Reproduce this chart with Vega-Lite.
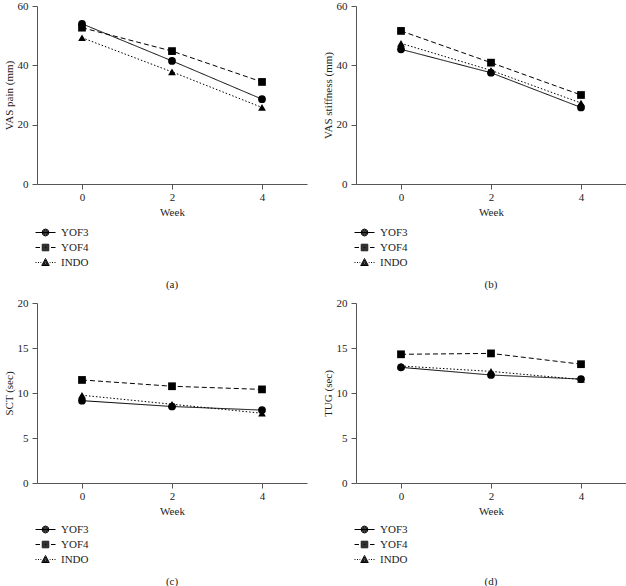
{
  "$schema": "https://vega.github.io/schema/vega-lite/v6.json",
  "padding": {"top": 0, "left": 3, "right": 0, "bottom": 0},
  "background": "white",
  "data": {"values": [
    {"panel": "a", "group": "YOF3", "week": 0, "value": 54.0},
    {"panel": "a", "group": "YOF3", "week": 2, "value": 41.5},
    {"panel": "a", "group": "YOF3", "week": 4, "value": 28.6},
    {"panel": "a", "group": "YOF4", "week": 0, "value": 52.7},
    {"panel": "a", "group": "YOF4", "week": 2, "value": 44.8},
    {"panel": "a", "group": "YOF4", "week": 4, "value": 34.4},
    {"panel": "a", "group": "INDO", "week": 0, "value": 49.3},
    {"panel": "a", "group": "INDO", "week": 2, "value": 37.8},
    {"panel": "a", "group": "INDO", "week": 4, "value": 25.8},
    {"panel": "b", "group": "YOF3", "week": 0, "value": 45.4},
    {"panel": "b", "group": "YOF3", "week": 2, "value": 37.5},
    {"panel": "b", "group": "YOF3", "week": 4, "value": 25.8},
    {"panel": "b", "group": "YOF4", "week": 0, "value": 51.6},
    {"panel": "b", "group": "YOF4", "week": 2, "value": 40.9},
    {"panel": "b", "group": "YOF4", "week": 4, "value": 30.0},
    {"panel": "b", "group": "INDO", "week": 0, "value": 47.4},
    {"panel": "b", "group": "INDO", "week": 2, "value": 38.3},
    {"panel": "b", "group": "INDO", "week": 4, "value": 27.3},
    {"panel": "c", "group": "YOF3", "week": 0, "value": 9.15},
    {"panel": "c", "group": "YOF3", "week": 2, "value": 8.5},
    {"panel": "c", "group": "YOF3", "week": 4, "value": 8.1},
    {"panel": "c", "group": "YOF4", "week": 0, "value": 11.45},
    {"panel": "c", "group": "YOF4", "week": 2, "value": 10.75},
    {"panel": "c", "group": "YOF4", "week": 4, "value": 10.4},
    {"panel": "c", "group": "INDO", "week": 0, "value": 9.75},
    {"panel": "c", "group": "INDO", "week": 2, "value": 8.75},
    {"panel": "c", "group": "INDO", "week": 4, "value": 7.75},
    {"panel": "d", "group": "YOF3", "week": 0, "value": 12.85},
    {"panel": "d", "group": "YOF3", "week": 2, "value": 12.0},
    {"panel": "d", "group": "YOF3", "week": 4, "value": 11.55},
    {"panel": "d", "group": "YOF4", "week": 0, "value": 14.3},
    {"panel": "d", "group": "YOF4", "week": 2, "value": 14.4},
    {"panel": "d", "group": "YOF4", "week": 4, "value": 13.2},
    {"panel": "d", "group": "INDO", "week": 0, "value": 13.0},
    {"panel": "d", "group": "INDO", "week": 2, "value": 12.4},
    {"panel": "d", "group": "INDO", "week": 4, "value": 11.5}
  ]},
  "columns": 2,
  "spacing": {"column": 15, "row": 7},
  "resolve": {"scale": {"y": "independent", "x": "independent", "strokeDash": "independent", "shape": "independent"}, "legend": {"shape": "independent"}, "axis": {"x": "independent", "y": "independent"}},
  "concat": [
    {
      "width": 270, "height": 178,
      "title": {"text": "(a)", "orient": "bottom", "offset": 11},
      "transform": [{"filter": "datum.panel === 'a'"}],
      "encoding": {
        "x": {"field": "week", "type": "quantitative", "scale": {"domain": [-1, 5], "nice": false}, "axis": {"values": [0, 2, 4], "title": "Week"}},
        "y": {"field": "value", "type": "quantitative", "scale": {"domain": [0, 60], "nice": false}, "axis": {"values": [0, 20, 40, 60], "title": "VAS pain (mm)"}}
      },
      "resolve": {"scale": {"shape": "independent"}},
      "layer": [
        {"mark": {"type": "line", "color": "black", "strokeWidth": 1},
         "encoding": {"strokeDash": {"field": "group", "type": "nominal", "scale": {"domain": ["YOF3", "YOF4", "INDO"], "range": [[1, 0], [5, 3], [1.5, 2]]}, "legend": null}}},
        {"mark": {"type": "point", "filled": true, "color": "black", "size": 60, "opacity": 1},
         "encoding": {"shape": {"field": "group", "type": "nominal", "scale": {"domain": ["INDO", "YOF3", "YOF4"], "range": ["triangle-up", "circle", "square"]}, "legend": null}}},
        {"mark": {"type": "point", "filled": false, "color": "black", "opacity": 0, "strokeWidth": 1},
         "encoding": {"shape": {"field": "group", "type": "nominal", "scale": {"domain": ["YOF3", "YOF4", "INDO"], "range": [
           "M-2,0H2M0.7,0L0.495,0.495L0,0.7L-0.495,0.495L-0.7,0L-0.495,-0.495L0,-0.7L0.495,-0.495ZM0.52,0L0.368,0.368L0,0.52L-0.368,0.368L-0.52,0L-0.368,-0.368L0,-0.52L0.368,-0.368ZM0.34,0L0.24,0.24L0,0.34L-0.24,0.24L-0.34,0L-0.24,-0.24L0,-0.34L0.24,-0.24ZM0.16,0L0.113,0.113L0,0.16L-0.113,0.113L-0.16,0L-0.113,-0.113L0,-0.16L0.113,-0.113Z",
           "M-2,0H-1.1M1.1,0H2M-0.65,-0.65H0.65V0.65H-0.65ZM-0.45,-0.45H0.45V0.45H-0.45ZM-0.25,-0.25H0.25V0.25H-0.25ZM-0.08,-0.08H0.08V0.08H-0.08Z",
           "M-2,0H-1.8M-1.5,0H-1.3M-1.0,0H-0.85M0.85,0H1.0M1.3,0H1.5M1.8,0H2M0,-0.8L0.75,0.6L-0.75,0.6ZM0,-0.483L0.495,0.441L-0.495,0.441ZM0,-0.175L0.2475,0.287L-0.2475,0.287Z"]},
           "legend": {"orient": "none", "legendX": 3, "legendY": 221, "title": null, "padding": 0, "symbolSize": 100, "labelOffset": 10, "rowPadding": 3, "labelFontSize": 11, "symbolOpacity": 1, "symbolStrokeWidth": 1, "symbolStrokeColor": "black"}}}}
      ]
    },
    {
      "width": 270, "height": 178,
      "title": {"text": "(b)", "orient": "bottom", "offset": 11},
      "transform": [{"filter": "datum.panel === 'b'"}],
      "encoding": {
        "x": {"field": "week", "type": "quantitative", "scale": {"domain": [-1, 5], "nice": false}, "axis": {"values": [0, 2, 4], "title": "Week"}},
        "y": {"field": "value", "type": "quantitative", "scale": {"domain": [0, 60], "nice": false}, "axis": {"values": [0, 20, 40, 60], "title": "VAS stiffness (mm)"}}
      },
      "resolve": {"scale": {"shape": "independent"}},
      "layer": [
        {"mark": {"type": "line", "color": "black", "strokeWidth": 1},
         "encoding": {"strokeDash": {"field": "group", "type": "nominal", "scale": {"domain": ["YOF3", "YOF4", "INDO"], "range": [[1, 0], [5, 3], [1.5, 2]]}, "legend": null}}},
        {"mark": {"type": "point", "filled": true, "color": "black", "size": 60, "opacity": 1},
         "encoding": {"shape": {"field": "group", "type": "nominal", "scale": {"domain": ["INDO", "YOF3", "YOF4"], "range": ["triangle-up", "circle", "square"]}, "legend": null}}},
        {"mark": {"type": "point", "filled": false, "color": "black", "opacity": 0, "strokeWidth": 1},
         "encoding": {"shape": {"field": "group", "type": "nominal", "scale": {"domain": ["YOF3", "YOF4", "INDO"], "range": [
           "M-2,0H2M0.7,0L0.495,0.495L0,0.7L-0.495,0.495L-0.7,0L-0.495,-0.495L0,-0.7L0.495,-0.495ZM0.52,0L0.368,0.368L0,0.52L-0.368,0.368L-0.52,0L-0.368,-0.368L0,-0.52L0.368,-0.368ZM0.34,0L0.24,0.24L0,0.34L-0.24,0.24L-0.34,0L-0.24,-0.24L0,-0.34L0.24,-0.24ZM0.16,0L0.113,0.113L0,0.16L-0.113,0.113L-0.16,0L-0.113,-0.113L0,-0.16L0.113,-0.113Z",
           "M-2,0H-1.1M1.1,0H2M-0.65,-0.65H0.65V0.65H-0.65ZM-0.45,-0.45H0.45V0.45H-0.45ZM-0.25,-0.25H0.25V0.25H-0.25ZM-0.08,-0.08H0.08V0.08H-0.08Z",
           "M-2,0H-1.8M-1.5,0H-1.3M-1.0,0H-0.85M0.85,0H1.0M1.3,0H1.5M1.8,0H2M0,-0.8L0.75,0.6L-0.75,0.6ZM0,-0.483L0.495,0.441L-0.495,0.441ZM0,-0.175L0.2475,0.287L-0.2475,0.287Z"]},
           "legend": {"orient": "none", "legendX": 3, "legendY": 221, "title": null, "padding": 0, "symbolSize": 100, "labelOffset": 10, "rowPadding": 3, "labelFontSize": 11, "symbolOpacity": 1, "symbolStrokeWidth": 1, "symbolStrokeColor": "black"}}}}
      ]
    },
    {
      "width": 270, "height": 180,
      "title": {"text": "(c)", "orient": "bottom", "offset": 11},
      "transform": [{"filter": "datum.panel === 'c'"}],
      "encoding": {
        "x": {"field": "week", "type": "quantitative", "scale": {"domain": [-1, 5], "nice": false}, "axis": {"values": [0, 2, 4], "title": "Week"}},
        "y": {"field": "value", "type": "quantitative", "scale": {"domain": [0, 20], "nice": false}, "axis": {"values": [0, 5, 10, 15, 20], "title": "SCT (sec)"}}
      },
      "resolve": {"scale": {"shape": "independent"}},
      "layer": [
        {"mark": {"type": "line", "color": "black", "strokeWidth": 1},
         "encoding": {"strokeDash": {"field": "group", "type": "nominal", "scale": {"domain": ["YOF3", "YOF4", "INDO"], "range": [[1, 0], [5, 3], [1.5, 2]]}, "legend": null}}},
        {"mark": {"type": "point", "filled": true, "color": "black", "size": 60, "opacity": 1},
         "encoding": {"shape": {"field": "group", "type": "nominal", "scale": {"domain": ["INDO", "YOF3", "YOF4"], "range": ["triangle-up", "circle", "square"]}, "legend": null}}},
        {"mark": {"type": "point", "filled": false, "color": "black", "opacity": 0, "strokeWidth": 1},
         "encoding": {"shape": {"field": "group", "type": "nominal", "scale": {"domain": ["YOF3", "YOF4", "INDO"], "range": [
           "M-2,0H2M0.7,0L0.495,0.495L0,0.7L-0.495,0.495L-0.7,0L-0.495,-0.495L0,-0.7L0.495,-0.495ZM0.52,0L0.368,0.368L0,0.52L-0.368,0.368L-0.52,0L-0.368,-0.368L0,-0.52L0.368,-0.368ZM0.34,0L0.24,0.24L0,0.34L-0.24,0.24L-0.34,0L-0.24,-0.24L0,-0.34L0.24,-0.24ZM0.16,0L0.113,0.113L0,0.16L-0.113,0.113L-0.16,0L-0.113,-0.113L0,-0.16L0.113,-0.113Z",
           "M-2,0H-1.1M1.1,0H2M-0.65,-0.65H0.65V0.65H-0.65ZM-0.45,-0.45H0.45V0.45H-0.45ZM-0.25,-0.25H0.25V0.25H-0.25ZM-0.08,-0.08H0.08V0.08H-0.08Z",
           "M-2,0H-1.8M-1.5,0H-1.3M-1.0,0H-0.85M0.85,0H1.0M1.3,0H1.5M1.8,0H2M0,-0.8L0.75,0.6L-0.75,0.6ZM0,-0.483L0.495,0.441L-0.495,0.441ZM0,-0.175L0.2475,0.287L-0.2475,0.287Z"]},
           "legend": {"orient": "none", "legendX": 3, "legendY": 221, "title": null, "padding": 0, "symbolSize": 100, "labelOffset": 10, "rowPadding": 3, "labelFontSize": 11, "symbolOpacity": 1, "symbolStrokeWidth": 1, "symbolStrokeColor": "black"}}}}
      ]
    },
    {
      "width": 270, "height": 180,
      "title": {"text": "(d)", "orient": "bottom", "offset": 11},
      "transform": [{"filter": "datum.panel === 'd'"}],
      "encoding": {
        "x": {"field": "week", "type": "quantitative", "scale": {"domain": [-1, 5], "nice": false}, "axis": {"values": [0, 2, 4], "title": "Week"}},
        "y": {"field": "value", "type": "quantitative", "scale": {"domain": [0, 20], "nice": false}, "axis": {"values": [0, 5, 10, 15, 20], "title": "TUG (sec)"}}
      },
      "resolve": {"scale": {"shape": "independent"}},
      "layer": [
        {"mark": {"type": "line", "color": "black", "strokeWidth": 1},
         "encoding": {"strokeDash": {"field": "group", "type": "nominal", "scale": {"domain": ["YOF3", "YOF4", "INDO"], "range": [[1, 0], [5, 3], [1.5, 2]]}, "legend": null}}},
        {"mark": {"type": "point", "filled": true, "color": "black", "size": 60, "opacity": 1},
         "encoding": {"shape": {"field": "group", "type": "nominal", "scale": {"domain": ["INDO", "YOF3", "YOF4"], "range": ["triangle-up", "circle", "square"]}, "legend": null}}},
        {"mark": {"type": "point", "filled": false, "color": "black", "opacity": 0, "strokeWidth": 1},
         "encoding": {"shape": {"field": "group", "type": "nominal", "scale": {"domain": ["YOF3", "YOF4", "INDO"], "range": [
           "M-2,0H2M0.7,0L0.495,0.495L0,0.7L-0.495,0.495L-0.7,0L-0.495,-0.495L0,-0.7L0.495,-0.495ZM0.52,0L0.368,0.368L0,0.52L-0.368,0.368L-0.52,0L-0.368,-0.368L0,-0.52L0.368,-0.368ZM0.34,0L0.24,0.24L0,0.34L-0.24,0.24L-0.34,0L-0.24,-0.24L0,-0.34L0.24,-0.24ZM0.16,0L0.113,0.113L0,0.16L-0.113,0.113L-0.16,0L-0.113,-0.113L0,-0.16L0.113,-0.113Z",
           "M-2,0H-1.1M1.1,0H2M-0.65,-0.65H0.65V0.65H-0.65ZM-0.45,-0.45H0.45V0.45H-0.45ZM-0.25,-0.25H0.25V0.25H-0.25ZM-0.08,-0.08H0.08V0.08H-0.08Z",
           "M-2,0H-1.8M-1.5,0H-1.3M-1.0,0H-0.85M0.85,0H1.0M1.3,0H1.5M1.8,0H2M0,-0.8L0.75,0.6L-0.75,0.6ZM0,-0.483L0.495,0.441L-0.495,0.441ZM0,-0.175L0.2475,0.287L-0.2475,0.287Z"]},
           "legend": {"orient": "none", "legendX": 3, "legendY": 221, "title": null, "padding": 0, "symbolSize": 100, "labelOffset": 10, "rowPadding": 3, "labelFontSize": 11, "symbolOpacity": 1, "symbolStrokeWidth": 1, "symbolStrokeColor": "black"}}}}
      ]
    }
  ],
  "config": {
    "view": {"stroke": null},
    "font": "Liberation Serif",
    "title": {"font": "Liberation Serif", "fontSize": 11, "fontWeight": "normal", "color": "#222", "anchor": "middle"},
    "axis": {"grid": false, "domainColor": "#555", "tickColor": "#555", "tickSize": 5, "labelFont": "Liberation Serif", "labelFontSize": 11, "labelColor": "#222", "titleFont": "Liberation Serif", "titleFontSize": 11, "titleFontWeight": "normal", "titleColor": "#222"},
    "axisX": {"labelPadding": 2, "titlePadding": 4},
    "axisY": {"labelPadding": 4, "titlePadding": 3},
    "legend": {"labelFont": "Liberation Serif", "labelColor": "#222"}
  }
}
